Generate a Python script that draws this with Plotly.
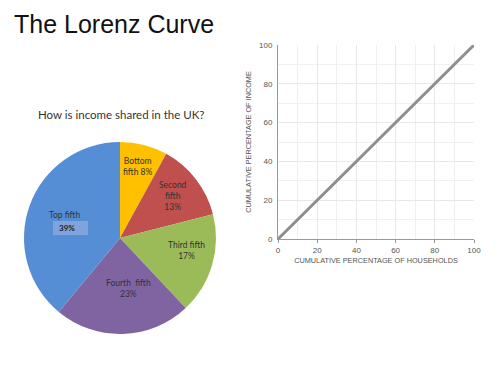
import plotly.graph_objects as go

# ---- data ----
groups = ["Bottom fifth", "Second fifth", "Third fifth", "Fourth fifth", "Top fifth"]
shares = [8, 13, 17, 23, 39]
households_pct = [0, 100]
income_pct = [0, 100]
axis_ticks = [0, 20, 40, 60, 80, 100]

slice_colors = ["#FFC000", "#C0504D", "#9BBB59", "#8064A2", "#558ED5"]

W, H = 500, 375
def px(x): return x / W
def py(y): return 1 - y / H

fig = go.Figure()

fig.add_trace(go.Pie(
    labels=groups, values=shares, sort=False, direction="clockwise", rotation=0,
    marker=dict(colors=slice_colors, line=dict(width=0)),
    textinfo="none", hoverinfo="label+percent", showlegend=False,
    domain=dict(x=[px(22), px(218)], y=[py(334), py(142)]),
))

fig.add_trace(go.Scatter(
    x=households_pct, y=income_pct, mode="lines",
    line=dict(color="#8E8E8E", width=3), showlegend=False,
    xaxis="x", yaxis="y",
))

label_font = dict(family="Lato, Open Sans, sans-serif", size=8.5, color="#333333")
anns = [
    dict(text="The Lorenz Curve", x=px(12), y=py(24), xanchor="left", yanchor="middle",
         font=dict(family="Liberation Sans, Arial, sans-serif", size=25, color="#111111")),
    dict(text="How is income shared in the UK?", x=px(121), y=py(115), xanchor="center", yanchor="middle",
         font=dict(family="Lato, Open Sans, sans-serif", size=11.5, color="#333333")),
    dict(text="Bottom<br>fifth %d%%" % shares[0], x=px(138), y=py(166), xanchor="center", yanchor="middle",
         font=label_font),
    dict(text="Second<br>fifth<br>%d%%" % shares[1], x=px(173), y=py(196), xanchor="center", yanchor="middle",
         font=label_font),
    dict(text="Third fifth<br>%d%%" % shares[2], x=px(186), y=py(250), xanchor="center", yanchor="middle",
         font=label_font),
    dict(text="Fourth  fifth<br>%d%%" % shares[3], x=px(128), y=py(288), xanchor="center", yanchor="middle",
         font=label_font),
    dict(text="Top fifth", x=px(64), y=py(215), xanchor="center", yanchor="middle",
         font=label_font),
]
fig.add_shape(type="rect", xref="paper", yref="paper",
              x0=px(53), x1=px(88), y0=py(235), y1=py(221),
              fillcolor="#8EAADB", opacity=0.75, line=dict(width=0))
anns.append(dict(text="<b>%d%%</b>" % shares[4], x=px(67), y=py(228), xanchor="center", yanchor="middle",
                 font=dict(family="Lato, Open Sans, sans-serif", size=8, color="#222222")))

for a in anns:
    a.update(xref="paper", yref="paper", showarrow=False)

tick_font = dict(family="Liberation Sans, Arial, sans-serif", size=8, color="#555555")
title_font = dict(family="Liberation Sans, Arial, sans-serif", size=7.3, color="#555555")

fig.update_layout(
    width=W, height=H, margin=dict(l=0, r=0, t=0, b=0, autoexpand=False),
    paper_bgcolor="white", plot_bgcolor="white",
    annotations=anns,
    xaxis=dict(domain=[px(278), px(474)], range=[0, 100], tickvals=axis_ticks,
               automargin=False,
               showgrid=True, gridcolor="#E8E8E8", gridwidth=1,
               minor=dict(dtick=10, showgrid=True, gridcolor="#F0F0F0"),
               showline=True, linecolor="#999999", linewidth=1,
               ticks="outside", ticklen=3, tickcolor="#999999",
               tickfont=tick_font, zeroline=False,
               title=dict(text="CUMULATIVE PERCENTAGE OF HOUSEHOLDS", font=title_font, standoff=4)),
    yaxis=dict(domain=[py(239), py(45)], range=[0, 100], tickvals=axis_ticks,
               automargin=False,
               showgrid=True, gridcolor="#E8E8E8", gridwidth=1,
               minor=dict(dtick=10, showgrid=True, gridcolor="#F0F0F0"),
               showline=True, linecolor="#999999", linewidth=1,
               ticks="outside", ticklen=3, tickcolor="#FFFFFF",
               tickfont=tick_font, zeroline=False,
               title=dict(text="CUMULATIVE PERCENTAGE OF INCOME", font=title_font, standoff=6)),
)

fig.write_html("out.html", config={"displayModeBar": False},
               post_script="document.body.style.margin='0';")
